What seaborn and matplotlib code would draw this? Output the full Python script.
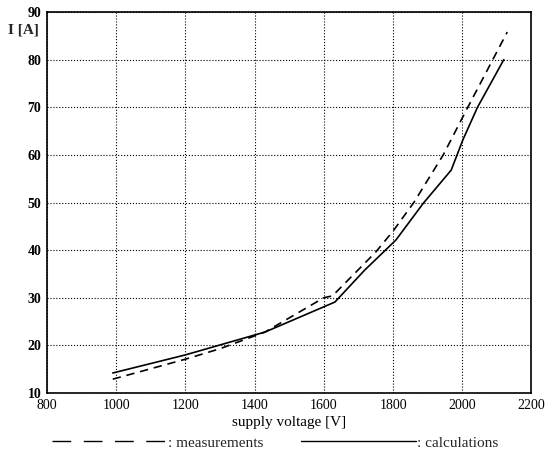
import matplotlib
matplotlib.use("Agg")
import matplotlib.pyplot as plt
import seaborn as sns
import pandas as pd
from matplotlib.lines import Line2D

meas_v = [990, 1200, 1300, 1430, 1600, 1625, 1750, 1800, 1860, 1945, 2016, 2130]
meas_i = [12.9, 17.1, 19.3, 22.8, 30.0, 30.4, 39.6, 44.0, 50.0, 60.0, 70.0, 85.8]
calc_v = [990, 1200, 1430, 1600, 1632, 1718, 1808, 1888, 1968, 2002, 2044, 2120]
calc_i = [14.2, 18.0, 22.8, 28.1, 29.1, 35.8, 42.1, 49.9, 56.8, 63.2, 70.0, 80.0]
x_ticks = [800, 1000, 1200, 1400, 1600, 1800, 2000, 2200]
y_ticks = [10, 20, 30, 40, 50, 60, 70, 80, 90]

df = pd.concat([
    pd.DataFrame({"V": meas_v, "I": meas_i, "series": "measurements"}),
    pd.DataFrame({"V": calc_v, "I": calc_i, "series": "calculations"}),
])

sns.set_theme(style="white")
plt.rcParams['font.family'] = ['Liberation Serif', 'DejaVu Serif']

fig = plt.figure(figsize=(5.45, 4.59), dpi=100)
ax = fig.add_axes([0.0862, 0.1438, 0.889, 0.830])

sns.lineplot(data=df, x="V", y="I", hue="series", style="series",
             palette={"measurements": "black", "calculations": "black"},
             dashes={"measurements": (5, 3.5), "calculations": ""},
             sort=False, estimator=None, ax=ax, legend=False)
for ln in ax.lines:
    ln.set_linewidth(1.2)

ax.set_xlim(800, 2200)
ax.set_ylim(10, 90)
ax.set_xticks(x_ticks)
ax.set_yticks(y_ticks)
ax.set_xticklabels([str(t) for t in x_ticks], fontsize=10)
ax.set_yticklabels([str(t) for t in y_ticks], fontsize=10, fontweight="bold")
ax.tick_params(axis="both", length=0, pad=4, colors="black")
ax.grid(True, linestyle=":", color="black", linewidth=0.8)
for s in ax.spines.values():
    s.set_visible(True)
    s.set_color("black")
    s.set_linewidth(1.2)
ax.set_xlabel("supply voltage [V]", fontsize=11, labelpad=3, color="black")
ax.set_ylabel("")
fig.text(0.015, 0.935, "I [A]", fontsize=11, fontweight="bold", ha="left", va="center")

handles = [Line2D([], [], color="black", lw=1.0, dashes=(13.5, 9)),
           Line2D([], [], color="black", lw=1.0)]
fig.legend(handles, [": measurements", ": calculations"], loc="lower center",
           bbox_to_anchor=(0.505, -0.01), ncol=2, frameon=False, fontsize=11,
           handlelength=7.5, handletextpad=0.1, columnspacing=2.5)

fig.savefig("out.png", dpi=100, facecolor="white")
